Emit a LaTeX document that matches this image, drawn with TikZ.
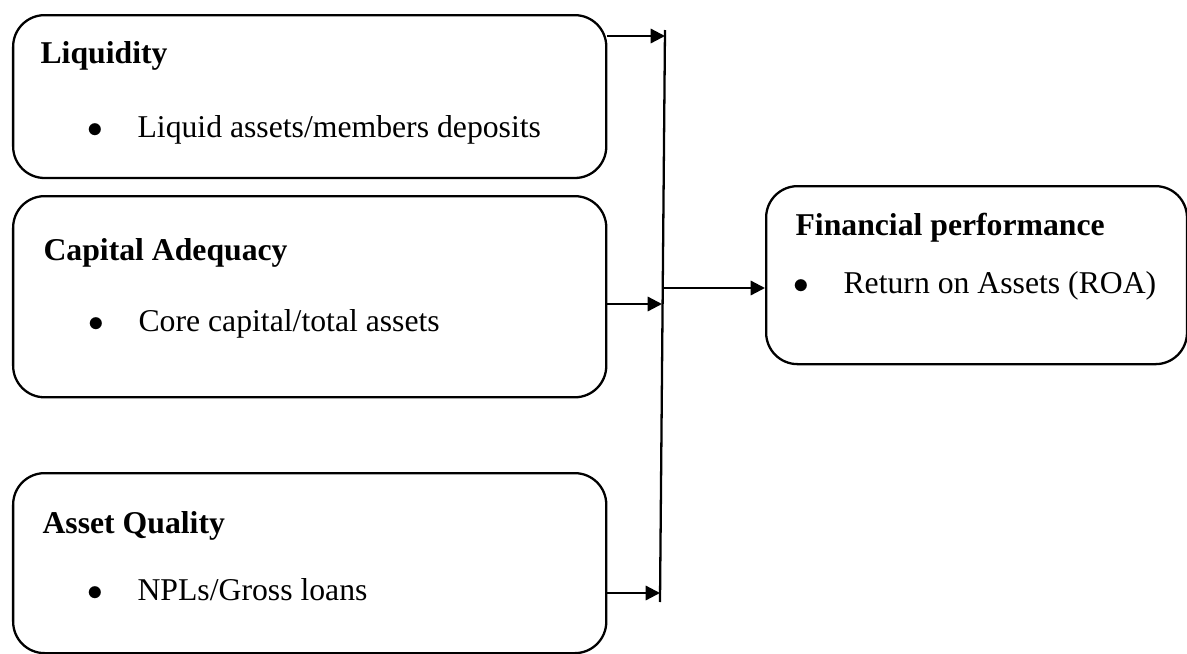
\documentclass[tikz,border=0pt]{standalone}
\usepackage{fontspec}
\setmainfont{Liberation Serif}
\usetikzlibrary{arrows.meta}
\tikzset{
  factor/.style={draw, line width=0.8pt, rounded corners=11pt, anchor=north west, inner sep=0pt},
  head/.style={anchor=base west, font=\fontsize{11.1}{13}\selectfont\bfseries, inner sep=0pt},
  item/.style={anchor=base west, font=\fontsize{11.1}{13}\selectfont, inner sep=0pt},
  link/.style={line width=0.8pt, -{Triangle[length=5pt, width=5pt]}}
}
\newcommand{\itembullet}{\llap{$\bullet$\hspace{12pt}}}
\begin{document}
\begin{tikzpicture}[x=0.35pt, y=-0.35pt]
  \useasboundingbox (0,0) rectangle (1187,654);
  % boxes
  \node[factor, minimum width=207.6pt, minimum height=57pt] (liq) at (12,14) {};
  \node[factor, minimum width=207.6pt, minimum height=70.4pt] (cap) at (12,195) {};
  \node[factor, minimum width=207.6pt, minimum height=63pt] (aq) at (12,472) {};
  \node[factor, minimum width=147.3pt, minimum height=62.3pt] (fp) at (765,185) {};
  % texts
  \node[head] (liqh) at (40,63) {Liquidity};
  \node[item] (liqi) at (137,137) {\itembullet Liquid assets/members deposits};
  \node[head] (caph) at (43,260) {Capital Adequacy};
  \node[item] (capi) at (138,331) {\itembullet Core capital/total assets};
  \node[head] (aqh) at (42,533) {Asset Quality};
  \node[item] (aqi) at (137,600) {\itembullet NPLs/Gross loans};
  \node[head] (fph) at (795,235) {Financial performance};
  \node[item] (fpi) at (843,293) {\itembullet Return on Assets (ROA)};
  % joining line
  \coordinate (jtop) at (665,30);
  \coordinate (jmid) at (662,296);
  \coordinate (jbot) at (660,602);
  \draw[line width=0.8pt] (jtop) -- (jbot);
  \draw[link] (liq.east |- 0,36) -- (jtop |- 0,36);
  \draw[link] (cap.east |- 0,304) -- (jmid |- 0,304);
  \draw[link] (aq.east |- 0,593) -- (jbot |- 0,593);
  \draw[link] (jmid |- 0,288) -- (fp.west |- 0,288);
\end{tikzpicture}
\end{document}
